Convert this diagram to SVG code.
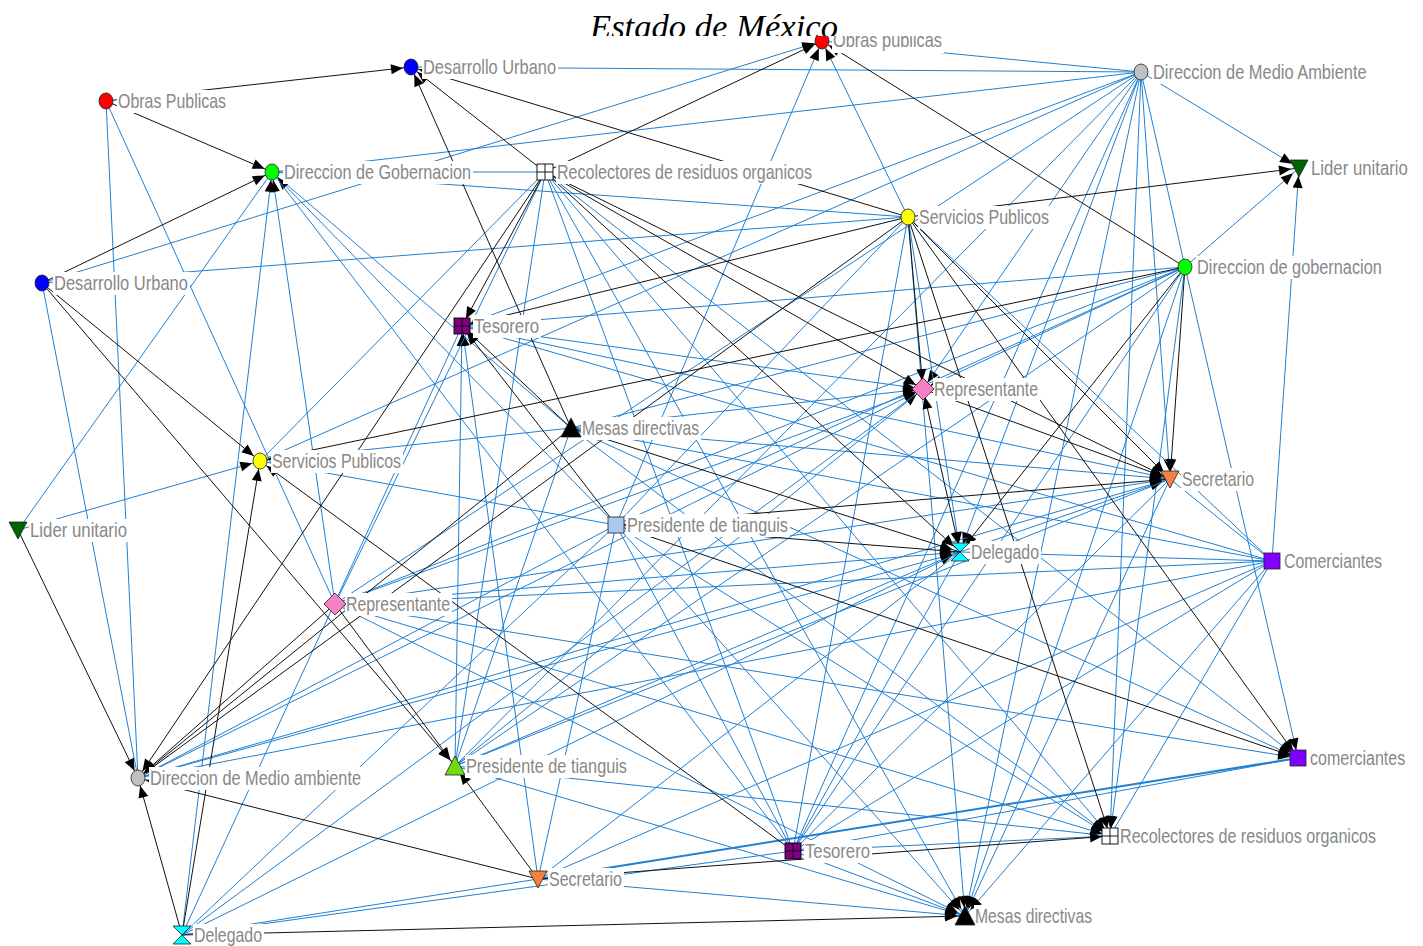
<svg xmlns="http://www.w3.org/2000/svg" width="1423" height="946" viewBox="0 0 1423 946">
<style>
.b{stroke:#2080d2;stroke-width:1;fill:none}
.k{stroke:#111;stroke-width:1;fill:none}
.a{marker-end:url(#ah)}
.s{marker-start:url(#ahs)}
.lb{fill:#fff}
.lt{font-family:"Liberation Sans",Arial,sans-serif;font-size:21px;fill:#888888}
.nd{stroke:#222;stroke-width:0.8}
.g{stroke:#000;stroke-width:0.9}
</style>
<defs>
<marker id="ah" markerUnits="userSpaceOnUse" markerWidth="26" markerHeight="10" refX="20" refY="5" orient="auto" overflow="visible"><path d="M0,0 L12,5 L0,10 z" fill="#000"/></marker>
<marker id="ahs" markerUnits="userSpaceOnUse" markerWidth="26" markerHeight="10" refX="20" refY="5" orient="auto-start-reverse" overflow="visible"><path d="M0,0 L12,5 L0,10 z" fill="#000"/></marker>
<clipPath id="tc"><rect x="0" y="0" width="1423" height="36"/></clipPath>
</defs>
<rect width="1423" height="946" fill="#fff"/>
<g id="connectors">
<line class="b" x1="1141" y1="72" x2="411" y2="67"/>
<line class="b" x1="1141" y1="72" x2="822" y2="41"/>
<line class="b" x1="1141" y1="72" x2="272" y2="172"/>
<line class="b a" x1="1141" y1="72" x2="1299" y2="168"/>
<line class="b" x1="1141" y1="72" x2="1185" y2="267"/>
<line class="b a" x1="1141" y1="72" x2="1110" y2="836"/>
<line class="b a" x1="1141" y1="72" x2="1170" y2="479"/>
<line class="b a" x1="1141" y1="72" x2="965" y2="916"/>
<line class="b" x1="1141" y1="72" x2="462" y2="326"/>
<line class="b" x1="1141" y1="72" x2="260" y2="461"/>
<line class="b" x1="1141" y1="72" x2="455" y2="766"/>
<line class="b a" x1="1141" y1="72" x2="923" y2="389"/>
<line class="b a" x1="1141" y1="72" x2="960" y2="552"/>
<line class="b" x1="1141" y1="72" x2="793" y2="851"/>
<line class="b" x1="1141" y1="72" x2="335" y2="604"/>
<line class="b a" x1="1185" y1="267" x2="1299" y2="168"/>
<line class="b" x1="1185" y1="267" x2="462" y2="326"/>
<line class="b a" x1="1185" y1="267" x2="923" y2="389"/>
<line class="b" x1="1185" y1="267" x2="616" y2="525"/>
<line class="b" x1="1185" y1="267" x2="335" y2="604"/>
<line class="b" x1="1185" y1="267" x2="455" y2="766"/>
<line class="b" x1="1185" y1="267" x2="571" y2="428"/>
<line class="b" x1="1185" y1="267" x2="793" y2="851"/>
<line class="b a" x1="1185" y1="267" x2="1110" y2="836"/>
<line class="b a" x1="1185" y1="267" x2="1298" y2="758"/>
<line class="b a" x1="1185" y1="267" x2="965" y2="916"/>
<line class="b a" x1="1272" y1="561" x2="1299" y2="168"/>
<line class="b a" x1="42" y1="283" x2="822" y2="41"/>
<line class="b a" x1="616" y1="525" x2="822" y2="41"/>
<line class="b a" x1="908" y1="217" x2="822" y2="41"/>
<line class="b" x1="106" y1="101" x2="138" y2="778"/>
<line class="b" x1="106" y1="101" x2="335" y2="604"/>
<line class="b" x1="42" y1="283" x2="138" y2="778"/>
<line class="b" x1="42" y1="283" x2="908" y2="217"/>
<line class="b" x1="272" y1="172" x2="545" y2="172"/>
<line class="b" x1="272" y1="172" x2="908" y2="217"/>
<line class="b" x1="272" y1="172" x2="18" y2="530"/>
<line class="b a" x1="182" y1="935" x2="272" y2="172"/>
<line class="b a" x1="335" y1="604" x2="272" y2="172"/>
<line class="b" x1="272" y1="172" x2="571" y2="428"/>
<line class="b a" x1="616" y1="525" x2="272" y2="172"/>
<line class="b" x1="272" y1="172" x2="793" y2="851"/>
<line class="b a" x1="18" y1="530" x2="260" y2="461"/>
<line class="b" x1="260" y1="461" x2="571" y2="428"/>
<line class="b" x1="260" y1="461" x2="616" y2="525"/>
<line class="b a" x1="335" y1="604" x2="960" y2="552"/>
<line class="b a" x1="335" y1="604" x2="1170" y2="479"/>
<line class="b" x1="335" y1="604" x2="1272" y2="561"/>
<line class="b a" x1="335" y1="604" x2="1298" y2="758"/>
<line class="b a" x1="335" y1="604" x2="1110" y2="836"/>
<line class="b a" x1="335" y1="604" x2="965" y2="916"/>
<line class="b a" x1="335" y1="604" x2="923" y2="389"/>
<line class="b a" x1="138" y1="778" x2="923" y2="389"/>
<line class="b" x1="138" y1="778" x2="616" y2="525"/>
<line class="b a" x1="138" y1="778" x2="960" y2="552"/>
<line class="b" x1="138" y1="778" x2="1272" y2="561"/>
<line class="b a" x1="138" y1="778" x2="1170" y2="479"/>
<line class="b a" x1="455" y1="766" x2="462" y2="326"/>
<line class="b" x1="455" y1="766" x2="545" y2="172"/>
<line class="b" x1="455" y1="766" x2="571" y2="428"/>
<line class="b a" x1="455" y1="766" x2="923" y2="389"/>
<line class="b a" x1="455" y1="766" x2="960" y2="552"/>
<line class="b a" x1="455" y1="766" x2="965" y2="916"/>
<line class="b a" x1="538" y1="879" x2="462" y2="326"/>
<line class="b" x1="462" y1="326" x2="182" y2="935"/>
<line class="b" x1="462" y1="326" x2="1272" y2="561"/>
<line class="b a" x1="462" y1="326" x2="923" y2="389"/>
<line class="b a" x1="462" y1="326" x2="1170" y2="479"/>
<line class="b a" x1="545" y1="172" x2="965" y2="916"/>
<line class="b a" x1="545" y1="172" x2="1298" y2="758"/>
<line class="b a" x1="545" y1="172" x2="1110" y2="836"/>
<line class="b" x1="545" y1="172" x2="793" y2="851"/>
<line class="b" x1="545" y1="172" x2="260" y2="461"/>
<line class="b" x1="545" y1="172" x2="335" y2="604"/>
<line class="b" x1="908" y1="217" x2="616" y2="525"/>
<line class="b a" x1="908" y1="217" x2="960" y2="552"/>
<line class="b a" x1="908" y1="217" x2="965" y2="916"/>
<line class="b" x1="908" y1="217" x2="793" y2="851"/>
<line class="b" x1="908" y1="217" x2="1272" y2="561"/>
<line class="b a" x1="571" y1="428" x2="923" y2="389"/>
<line class="b a" x1="571" y1="428" x2="1170" y2="479"/>
<line class="b" x1="571" y1="428" x2="1272" y2="561"/>
<line class="b a" x1="571" y1="428" x2="1110" y2="836"/>
<line class="b a" x1="571" y1="428" x2="1298" y2="758"/>
<line class="b a" x1="616" y1="525" x2="965" y2="916"/>
<line class="b" x1="616" y1="525" x2="793" y2="851"/>
<line class="b a" x1="616" y1="525" x2="1110" y2="836"/>
<line class="b" x1="616" y1="525" x2="182" y2="935"/>
<line class="b" x1="616" y1="525" x2="538" y2="879"/>
<line class="b" x1="960" y1="552" x2="1272" y2="561"/>
<line class="b a" x1="960" y1="552" x2="1170" y2="479"/>
<line class="b" x1="960" y1="552" x2="182" y2="935"/>
<line class="b" x1="960" y1="552" x2="793" y2="851"/>
<line class="b" x1="960" y1="552" x2="538" y2="879"/>
<line class="b" x1="1170" y1="479" x2="1272" y2="561"/>
<line class="b" x1="1170" y1="479" x2="793" y2="851"/>
<line class="b a" x1="1170" y1="479" x2="965" y2="916"/>
<line class="b" x1="1170" y1="479" x2="455" y2="766"/>
<line class="b" x1="1272" y1="561" x2="1110" y2="836"/>
<line class="b" x1="1272" y1="561" x2="793" y2="851"/>
<line class="b a" x1="1272" y1="561" x2="965" y2="916"/>
<line class="b" x1="1272" y1="561" x2="538" y2="879"/>
<line class="b" style="stroke-width:2" x1="1298" y1="758" x2="538" y2="879"/>
<line class="b" x1="1298" y1="758" x2="793" y2="851"/>
<line class="b" x1="1110" y1="836" x2="793" y2="851"/>
<line class="b" x1="1110" y1="836" x2="455" y2="766"/>
<line class="b a" x1="793" y1="851" x2="965" y2="916"/>
<line class="b" x1="793" y1="851" x2="182" y2="935"/>
<line class="b a" x1="538" y1="879" x2="965" y2="916"/>
<line class="b" x1="538" y1="879" x2="182" y2="935"/>
<line class="b" x1="182" y1="935" x2="923" y2="389"/>
<line class="k a" x1="106" y1="101" x2="411" y2="67"/>
<line class="k a" x1="106" y1="101" x2="272" y2="172"/>
<line class="k a" x1="42" y1="283" x2="272" y2="172"/>
<line class="k a" x1="545" y1="172" x2="411" y2="67"/>
<line class="k a" x1="908" y1="217" x2="411" y2="67"/>
<line class="k a" x1="571" y1="428" x2="411" y2="67"/>
<line class="k a" x1="545" y1="172" x2="822" y2="41"/>
<line class="k a" x1="1185" y1="267" x2="822" y2="41"/>
<line class="k a" x1="908" y1="217" x2="1299" y2="168"/>
<line class="k a" x1="545" y1="172" x2="462" y2="326"/>
<line class="k a" x1="571" y1="428" x2="462" y2="326"/>
<line class="k a" x1="616" y1="525" x2="462" y2="326"/>
<line class="k a" x1="908" y1="217" x2="462" y2="326"/>
<line class="k a" x1="545" y1="172" x2="138" y2="778"/>
<line class="k a" x1="908" y1="217" x2="138" y2="778"/>
<line class="k a" x1="571" y1="428" x2="138" y2="778"/>
<line class="k a" x1="335" y1="604" x2="138" y2="778"/>
<line class="k a" x1="182" y1="935" x2="138" y2="778"/>
<line class="k a" x1="538" y1="879" x2="138" y2="778"/>
<line class="k a" x1="18" y1="530" x2="138" y2="778"/>
<line class="k a" x1="42" y1="283" x2="260" y2="461"/>
<line class="k a" x1="793" y1="851" x2="260" y2="461"/>
<line class="k a" x1="1185" y1="267" x2="260" y2="461"/>
<line class="k a" x1="182" y1="935" x2="260" y2="461"/>
<line class="k a" x1="42" y1="283" x2="455" y2="766"/>
<line class="k a" x1="335" y1="604" x2="455" y2="766"/>
<line class="k a" x1="538" y1="879" x2="455" y2="766"/>
<line class="k a" x1="182" y1="935" x2="965" y2="916"/>
<line class="k a" x1="538" y1="879" x2="1110" y2="836"/>
<line class="k a" x1="908" y1="217" x2="1110" y2="836"/>
<line class="k a" x1="616" y1="525" x2="1298" y2="758"/>
<line class="k a" x1="908" y1="217" x2="1298" y2="758"/>
<line class="k a" x1="616" y1="525" x2="960" y2="552"/>
<line class="k a" x1="571" y1="428" x2="960" y2="552"/>
<line class="k a" x1="545" y1="172" x2="960" y2="552"/>
<line class="k a s" x1="923" y1="389" x2="960" y2="552"/>
<line class="k a" x1="1185" y1="267" x2="960" y2="552"/>
<line class="k a" x1="908" y1="217" x2="923" y2="389"/>
<line class="k a" x1="545" y1="172" x2="923" y2="389"/>
<line class="k a" x1="908" y1="217" x2="1170" y2="479"/>
<line class="k a" x1="545" y1="172" x2="1170" y2="479"/>
<line class="k a" x1="923" y1="389" x2="1170" y2="479"/>
<line class="k a" x1="616" y1="525" x2="1170" y2="479"/>
<line class="k a" x1="1185" y1="267" x2="1170" y2="479"/>
</g>
<g id="node-op1"><rect class="lb" x="832" y="30" width="112" height="23"/><text class="lt" x="833" y="47" textLength="109" lengthAdjust="spacingAndGlyphs">Obras publicas</text><ellipse class="nd" cx="822" cy="41" rx="7" ry="8" fill="#ff0000"/></g>
<g id="node-du1"><rect class="lb" x="422" y="56" width="136" height="23"/><text class="lt" x="423" y="74" textLength="133" lengthAdjust="spacingAndGlyphs">Desarrollo Urbano</text><ellipse class="nd" cx="411" cy="67" rx="7" ry="8" fill="#0000ff"/></g>
<g id="node-op2"><rect class="lb" x="117" y="90" width="111" height="23"/><text class="lt" x="118" y="108" textLength="108" lengthAdjust="spacingAndGlyphs">Obras Publicas</text><ellipse class="nd" cx="106" cy="101" rx="7" ry="8" fill="#ff0000"/></g>
<g id="node-dma1"><rect class="lb" x="1152" y="61" width="217" height="23"/><text class="lt" transform="translate(1153,79) scale(0.8,1)" x="0" y="0" textLength="267" lengthAdjust="spacingAndGlyphs">Direccion de Medio Ambiente</text><ellipse class="nd" cx="1141" cy="72" rx="7" ry="8" fill="#c0c0c0"/></g>
<g id="node-dg1"><rect class="lb" x="283" y="161" width="190" height="23"/><text class="lt" x="284" y="179" textLength="187" lengthAdjust="spacingAndGlyphs">Direccion de Gobernacion</text><ellipse class="nd" cx="272" cy="172" rx="7" ry="8" fill="#00ff00"/></g>
<g id="node-r1"><rect class="lb" x="556" y="161" width="258" height="23"/><text class="lt" x="557" y="179" textLength="255" lengthAdjust="spacingAndGlyphs">Recolectores de residuos organicos</text><rect class="g" x="537" y="164" width="16" height="16" fill="#fff"/><path class="g" d="M537,172H553M545,164V180"/></g>
<g id="node-lu1"><rect class="lb" x="1310" y="157" width="100" height="23"/><text class="lt" transform="translate(1311,175) scale(0.8,1)" x="0" y="0" textLength="121" lengthAdjust="spacingAndGlyphs">Lider unitario</text><polygon class="nd" points="1290,160 1308,160 1299,177" fill="#006400"/></g>
<g id="node-sp1"><rect class="lb" x="918" y="206" width="133" height="23"/><text class="lt" x="919" y="224" textLength="130" lengthAdjust="spacingAndGlyphs">Servicios Publicos</text><ellipse class="nd" cx="908" cy="217" rx="7" ry="8" fill="#ffff00"/></g>
<g id="node-du2"><rect class="lb" x="53" y="272" width="137" height="23"/><text class="lt" x="54" y="290" textLength="134" lengthAdjust="spacingAndGlyphs">Desarrollo Urbano</text><ellipse class="nd" cx="42" cy="283" rx="7" ry="8" fill="#0000ff"/></g>
<g id="node-dg2"><rect class="lb" x="1196" y="256" width="188" height="23"/><text class="lt" transform="translate(1197,274) scale(0.8,1)" x="0" y="0" textLength="231" lengthAdjust="spacingAndGlyphs">Direccion de gobernacion</text><ellipse class="nd" cx="1185" cy="267" rx="7" ry="8" fill="#00ff00"/></g>
<g id="node-t1"><rect class="lb" x="473" y="315" width="68" height="23"/><text class="lt" x="474" y="333" textLength="65" lengthAdjust="spacingAndGlyphs">Tesorero</text><rect class="g" x="454" y="318" width="16" height="16" fill="#800080"/><path class="g" d="M454,326H470M462,318V334"/></g>
<g id="node-rep1"><rect class="lb" x="933" y="378" width="107" height="23"/><text class="lt" x="934" y="396" textLength="104" lengthAdjust="spacingAndGlyphs">Representante</text><polygon class="nd" points="923,378 934,389 923,400 912,389" fill="#f77fc3"/></g>
<g id="node-md1"><rect class="lb" x="581" y="417" width="120" height="23"/><text class="lt" x="582" y="435" textLength="117" lengthAdjust="spacingAndGlyphs">Mesas directivas</text><polygon class="nd" points="571,418 581,437 561,437" fill="#000"/></g>
<g id="node-sp2"><rect class="lb" x="271" y="450" width="132" height="23"/><text class="lt" x="272" y="468" textLength="129" lengthAdjust="spacingAndGlyphs">Servicios Publicos</text><ellipse class="nd" cx="260" cy="461" rx="7" ry="8" fill="#ffff00"/></g>
<g id="node-sec1"><rect class="lb" x="1181" y="468" width="75" height="23"/><text class="lt" x="1182" y="486" textLength="72" lengthAdjust="spacingAndGlyphs">Secretario</text><polygon class="nd" points="1161,471 1179,471 1170,488" fill="#f7803f"/></g>
<g id="node-lu2"><rect class="lb" x="29" y="519" width="100" height="23"/><text class="lt" x="30" y="537" textLength="97" lengthAdjust="spacingAndGlyphs">Lider unitario</text><polygon class="nd" points="9,522 27,522 18,539" fill="#006400"/></g>
<g id="node-pt1"><rect class="lb" x="626" y="514" width="164" height="23"/><text class="lt" x="627" y="532" textLength="161" lengthAdjust="spacingAndGlyphs">Presidente de tianguis</text><rect class="nd" x="608" y="517" width="16" height="16" fill="#a9c9f0"/></g>
<g id="node-del1"><rect class="lb" x="970" y="541" width="71" height="23"/><text class="lt" x="971" y="559" textLength="68" lengthAdjust="spacingAndGlyphs">Delegado</text><path class="nd" d="M951,543H969L951,561H969Z" fill="#00ffff"/></g>
<g id="node-com1"><rect class="lb" x="1283" y="550" width="101" height="23"/><text class="lt" x="1284" y="568" textLength="98" lengthAdjust="spacingAndGlyphs">Comerciantes</text><rect class="nd" x="1264" y="553" width="16" height="16" fill="#8000ff"/></g>
<g id="node-rep2"><rect class="lb" x="345" y="593" width="107" height="23"/><text class="lt" x="346" y="611" textLength="104" lengthAdjust="spacingAndGlyphs">Representante</text><polygon class="nd" points="335,593 346,604 335,615 324,604" fill="#f77fc3"/></g>
<g id="node-dma2"><rect class="lb" x="149" y="767" width="214" height="23"/><text class="lt" x="150" y="785" textLength="211" lengthAdjust="spacingAndGlyphs">Direccion de Medio ambiente</text><ellipse class="nd" cx="138" cy="778" rx="7" ry="8" fill="#c0c0c0"/></g>
<g id="node-pt2"><rect class="lb" x="465" y="755" width="164" height="23"/><text class="lt" x="466" y="773" textLength="161" lengthAdjust="spacingAndGlyphs">Presidente de tianguis</text><polygon class="nd" points="455,756 465,775 445,775" fill="#6fdc10"/></g>
<g id="node-com2"><rect class="lb" x="1309" y="747" width="98" height="23"/><text class="lt" transform="translate(1310,765) scale(0.8,1)" x="0" y="0" textLength="119" lengthAdjust="spacingAndGlyphs">comerciantes</text><rect class="nd" x="1290" y="750" width="16" height="16" fill="#8000ff"/></g>
<g id="node-r2"><rect class="lb" x="1119" y="825" width="259" height="23"/><text class="lt" transform="translate(1120,843) scale(0.8,1)" x="0" y="0" textLength="320" lengthAdjust="spacingAndGlyphs">Recolectores de residuos organicos</text><rect class="g" x="1102" y="828" width="16" height="16" fill="#fff"/><path class="g" d="M1102,836H1118M1110,828V844"/></g>
<g id="node-t2"><rect class="lb" x="804" y="840" width="68" height="23"/><text class="lt" x="805" y="858" textLength="65" lengthAdjust="spacingAndGlyphs">Tesorero</text><rect class="g" x="785" y="843" width="16" height="16" fill="#800080"/><path class="g" d="M785,851H801M793,843V859"/></g>
<g id="node-sec2"><rect class="lb" x="548" y="868" width="76" height="23"/><text class="lt" x="549" y="886" textLength="73" lengthAdjust="spacingAndGlyphs">Secretario</text><polygon class="nd" points="529,871 547,871 538,888" fill="#f7803f"/></g>
<g id="node-md2"><rect class="lb" x="974" y="905" width="120" height="23"/><text class="lt" x="975" y="923" textLength="117" lengthAdjust="spacingAndGlyphs">Mesas directivas</text><polygon class="nd" points="965,906 975,925 955,925" fill="#000"/></g>
<g id="node-del2"><rect class="lb" x="193" y="924" width="71" height="22"/><text class="lt" x="194" y="942" textLength="68" lengthAdjust="spacingAndGlyphs">Delegado</text><path class="nd" d="M173,926H191L173,944H191Z" fill="#00ffff"/></g>
<g id="title"><rect x="585" y="0" width="370" height="36" fill="#fff"/><text x="714" y="38" clip-path="url(#tc)" text-anchor="middle" font-family="Liberation Serif, serif" font-style="italic" font-size="33" textLength="248" lengthAdjust="spacingAndGlyphs" fill="#000">Estado de México</text></g>
</svg>
